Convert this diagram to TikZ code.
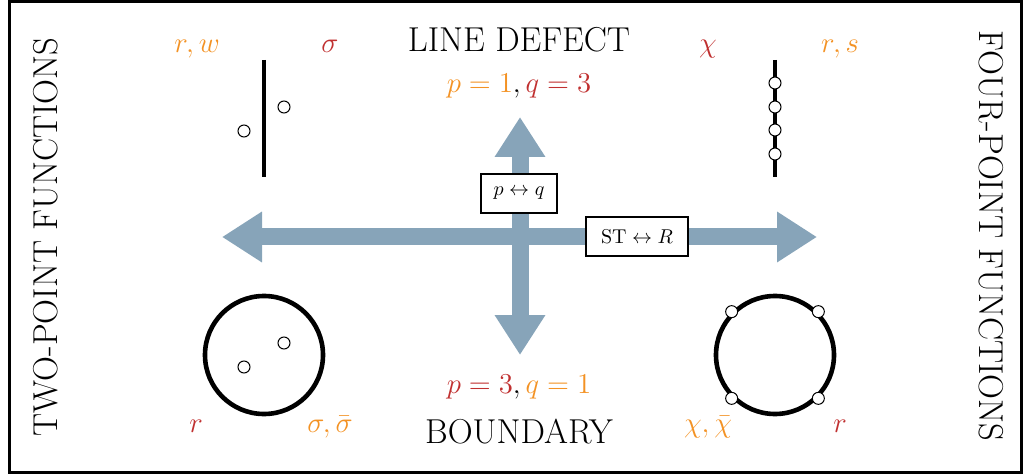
\documentclass[tikz,border=0pt]{standalone}
\usetikzlibrary{arrows.meta}
\definecolor{lorange}{RGB}{243,146,36}
\definecolor{lred}{RGB}{192,48,48}
\definecolor{steel}{RGB}{135,164,185}
\begin{document}
\begin{tikzpicture}[x=0.5pt,y=-0.5pt,
 big/.style={font=\fontsize{17.28}{21}\selectfont, inner sep=0pt},
 lab/.style={font=\fontsize{14.4}{18}\selectfont, inner sep=0pt, anchor=base},
 pqlab/.style={font=\fontsize{15.6}{19}\selectfont, inner sep=0pt, anchor=base},
 title/.style={big, anchor=base},
 bigarrow/.style={steel, line width=8.5pt, {Triangle[width=24pt,length=20pt]}-{Triangle[width=24pt,length=20pt]}},
 swapbox/.style={draw, line width=1pt, fill=white, minimum height=19.5pt, inner sep=0pt, font=\fontsize{10}{12}\selectfont},
 defect/.style={line width=2pt},
 dot/.style={circle, draw, fill=white, line width=0.5pt, minimum size=6pt, inner sep=0pt},
 ring/.style={circle, draw, line width=2.3pt, minimum size=59pt, inner sep=0pt}
]
\useasboundingbox (0,0) rectangle (1024,476);
\draw[line width=1.5pt] (9,2) rectangle (1021,472);

% arrows
\coordinate (L) at (222,237);
\coordinate (R) at (817,237);
\coordinate (T) at (520,117);
\coordinate (B) at (520,355);
\draw[bigarrow] (L) -- (R);
\draw[bigarrow] (T) -- (B);
\node[swapbox, minimum width=38pt] (pq) at (519,193.5) {$p\leftrightarrow q$};
\node[swapbox, minimum width=51pt] (st) at (637,236.5) {$\mathrm{ST}\leftrightarrow R$};

% line defect, two-point
\coordinate (la) at (264,60);
\coordinate (lb) at (264,177);
\draw[defect] (la) -- (lb);
\node[dot] (ld1) at (244,131) {};
\node[dot] (ld2) at (284,107) {};

% line defect, four-point
\coordinate (ra) at (775,60);
\coordinate (rb) at (775,177);
\draw[defect] (ra) -- (rb);
\node[dot] (rd1) at (775,83) {};
\node[dot] (rd2) at (775,107) {};
\node[dot] (rd3) at (775,130) {};
\node[dot] (rd4) at (775,154) {};

% boundary, two-point
\node[ring] (lc) at (264,355) {};
\node[dot] (lc1) at (244,367) {};
\node[dot] (lc2) at (284,343) {};

% boundary, four-point
\node[ring] (rc) at (775,355) {};
\node[dot] (rc1) at (rc.45) {};
\node[dot] (rc2) at (rc.135) {};
\node[dot] (rc3) at (rc.-135) {};
\node[dot] (rc4) at (rc.-45) {};

% labels top
\node[lab, text=lorange] (trw) at (197,53) {$r,w$};
\node[lab, text=lred] (tsig) at (330,53) {$\sigma$};
\node[lab, text=lred] (tchi) at (708,53) {$\chi$};
\node[lab, text=lorange] (trs) at (840,53) {$r,s$};
\node[title] (ld) at (519,52) {LINE DEFECT};
\node[pqlab] (pq13) at (519,93) {${\color{lorange}p=1},{\color{lred}q=3}$};

% labels bottom
\node[lab, text=lred] (br) at (196,432) {$r$};
\node[lab, text=lorange] (bsig) at (330,432) {$\sigma,\bar\sigma$};
\node[lab, text=lorange] (bchi) at (708,432) {$\chi,\bar\chi$};
\node[lab, text=lred] (br2) at (840,432) {$r$};
\node[title] (bd) at (519,443) {BOUNDARY};
\node[pqlab] (pq31) at (519,393) {${\color{lred}p=3},{\color{lorange}q=1}$};

% side titles
\node[big, rotate=90] (two) at (46,237) {TWO-POINT FUNCTIONS};
\node[big, rotate=-90] (four) at (991,236) {FOUR-POINT FUNCTIONS};
\end{tikzpicture}
\end{document}
